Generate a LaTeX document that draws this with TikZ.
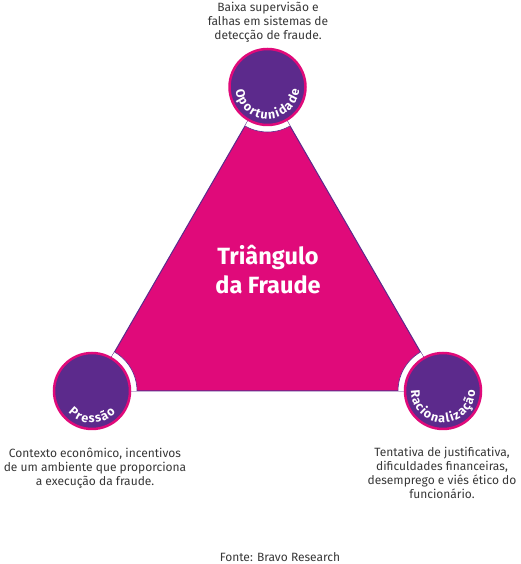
\documentclass[tikz,border=0pt]{standalone}
\usepackage{fontspec}
\setmainfont{Fira Sans}
\usetikzlibrary{decorations.text,calc}
\definecolor{mag}{RGB}{224,10,122}
\definecolor{purp}{RGB}{92,42,140}
\definecolor{txtgray}{RGB}{55,55,55}
\tikzset{
  vcirc/.style={circle, fill=purp, draw=mag, line width=2.5pt, minimum size=76pt, inner sep=0pt},
  note/.style={align=center, text=txtgray, font=\fontsize{12}{14}\selectfont, inner sep=0pt},
  title/.style={align=center, text=white, font=\bfseries\fontsize{23.5}{29}\selectfont, inner sep=0pt},
  gap/.style={fill=white, draw=purp, line width=0.6pt}
}
\newcommand{\arclabel}[3]{%
  \path[decorate, decoration={text along path, text align=center,
    text={|\bfseries\fontsize{12.5}{14}\selectfont\color{white}|#3}}]
    ($(#1)+(#2:32)$) arc[start angle=#2, end angle={540-#2}, radius=32pt];}
\begin{document}
\begin{tikzpicture}[x=1pt,y=1pt]
\useasboundingbox (0,0) rectangle (520,564);
\coordinate (A) at (267.5,477);
\coordinate (B) at (92,173);
\coordinate (C) at (443,173);
\path[fill=mag, draw=purp, line width=1pt] (A) -- (B) -- (C) -- cycle;
\begin{scope}
  \clip (A) -- (B) -- (C) -- cycle;
  \foreach \p in {A,B,C} \path[gap] (\p) circle[radius=45pt];
\end{scope}
\node[vcirc] (top) at (A) {};
\node[vcirc] (left) at (B) {};
\node[vcirc] (right) at (C) {};
\arclabel{top}{150}{O{\kern1.3pt}p{\kern1.3pt}o{\kern1.3pt}r{\kern1.3pt}t{\kern1.3pt}u{\kern1.3pt}n{\kern1.3pt}i{\kern1.3pt}d{\kern1.3pt}a{\kern1.3pt}d{\kern1.3pt}e}
\arclabel{left}{150}{P{\kern1.3pt}r{\kern1.3pt}e{\kern1.3pt}s{\kern1.3pt}s{\kern1.3pt}ã{\kern1.3pt}o}
\arclabel{right}{150}{R{\kern1.3pt}a{\kern1.3pt}c{\kern1.3pt}i{\kern1.3pt}o{\kern1.3pt}n{\kern1.3pt}a{\kern1.3pt}l{\kern1.3pt}i{\kern1.3pt}z{\kern1.3pt}a{\kern1.3pt}ç{\kern1.3pt}ã{\kern1.3pt}o}
\node[title] (t) at (268,294) {Triângulo\\da Fraude};
\node[note] (ntop) at (268,542) {Baixa supervisão e\\falhas em sistemas de\\detecção de fraude.};
\node[note] (nleft) at (95,96) {Contexto econômico, incentivos\\de um ambiente que proporciona\\a execução da fraude.};
\node[note] (nright) at (442,91) {Tentativa de justificativa,\\dificuldades financeiras,\\desemprego e viés ético do\\funcionário.};
\node[note] (src) at (280,7) {Fonte: Bravo Research};
\end{tikzpicture}
\end{document}
